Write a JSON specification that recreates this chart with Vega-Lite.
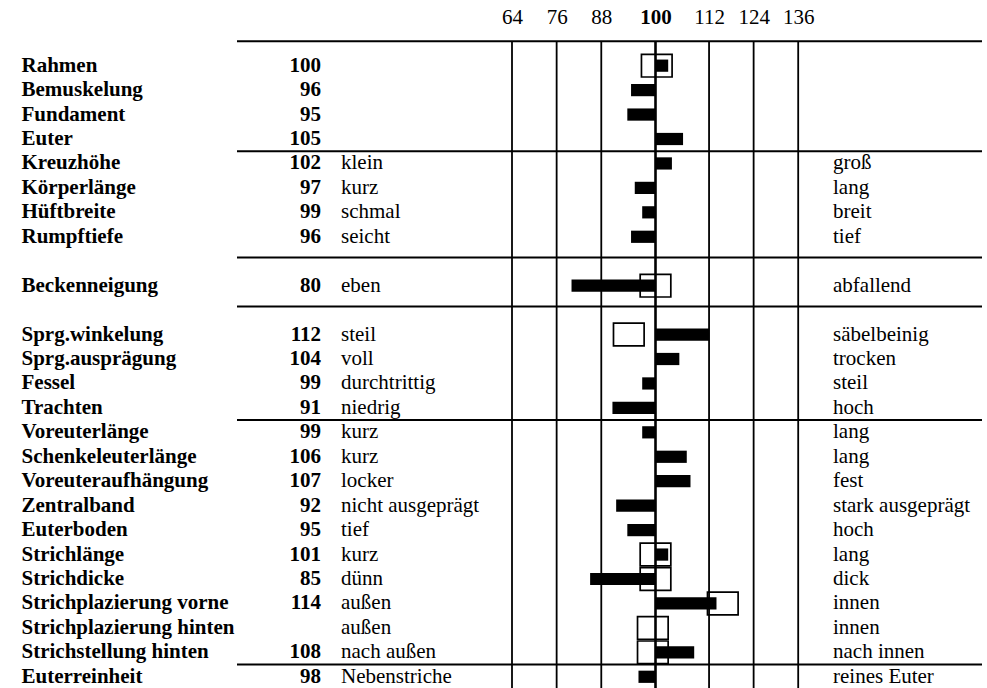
{
  "$schema": "https://vega.github.io/schema/vega-lite/v6.json",
  "padding": {"left": 21, "top": 6, "right": 0, "bottom": 0},
  "spacing": 0,
  "bounds": "flush",
  "background": "white",
  "config": {
    "view": {"stroke": null},
    "font": "Liberation Serif",
    "text": {"font": "Liberation Serif", "fontSize": 21, "color": "black"},
    "axis": {"labelFont": "Liberation Serif", "labelColor": "black"},
    "concat": {"spacing": 0}
  },
  "datasets": {
    "merkmale": [
      {"merkmal": "Rahmen", "zw": 100, "balken": 101, "niedrig": null, "hoch": null, "box": 100.1},
      {"merkmal": "Bemuskelung", "zw": 96, "balken": 96, "niedrig": null, "hoch": null, "box": null},
      {"merkmal": "Fundament", "zw": 95, "balken": 95, "niedrig": null, "hoch": null, "box": null},
      {"merkmal": "Euter", "zw": 105, "balken": 105, "niedrig": null, "hoch": null, "box": null},
      {"merkmal": "Kreuzhöhe", "zw": 102, "balken": 102, "niedrig": "klein", "hoch": "groß", "box": null},
      {"merkmal": "Körperlänge", "zw": 97, "balken": 97, "niedrig": "kurz", "hoch": "lang", "box": null},
      {"merkmal": "Hüftbreite", "zw": 99, "balken": 99, "niedrig": "schmal", "hoch": "breit", "box": null},
      {"merkmal": "Rumpftiefe", "zw": 96, "balken": 96, "niedrig": "seicht", "hoch": "tief", "box": null},
      {"merkmal": "Beckenneigung", "zw": 80, "balken": 80, "niedrig": "eben", "hoch": "abfallend", "box": 100},
      {"merkmal": "Sprg.winkelung", "zw": 112, "balken": 112, "niedrig": "steil", "hoch": "säbelbeinig", "box": 95.4},
      {"merkmal": "Sprg.ausprägung", "zw": 104, "balken": 104, "niedrig": "voll", "hoch": "trocken", "box": null},
      {"merkmal": "Fessel", "zw": 99, "balken": 99, "niedrig": "durchtrittig", "hoch": "steil", "box": null},
      {"merkmal": "Trachten", "zw": 91, "balken": 91, "niedrig": "niedrig", "hoch": "hoch", "box": null},
      {"merkmal": "Voreuterlänge", "zw": 99, "balken": 99, "niedrig": "kurz", "hoch": "lang", "box": null},
      {"merkmal": "Schenkeleuterlänge", "zw": 106, "balken": 106, "niedrig": "kurz", "hoch": "lang", "box": null},
      {"merkmal": "Voreuteraufhängung", "zw": 107, "balken": 107, "niedrig": "locker", "hoch": "fest", "box": null},
      {"merkmal": "Zentralband", "zw": 92, "balken": 92, "niedrig": "nicht ausgeprägt", "hoch": "stark ausgeprägt", "box": null},
      {"merkmal": "Euterboden", "zw": 95, "balken": 95, "niedrig": "tief", "hoch": "hoch", "box": null},
      {"merkmal": "Strichlänge", "zw": 101, "balken": 101, "niedrig": "kurz", "hoch": "lang", "box": 100},
      {"merkmal": "Strichdicke", "zw": 85, "balken": 85, "niedrig": "dünn", "hoch": "dick", "box": 100},
      {"merkmal": "Strichplazierung vorne", "zw": 114, "balken": 114, "niedrig": "außen", "hoch": "innen", "box": 115.7},
      {"merkmal": "Strichplazierung hinten", "zw": null, "balken": null, "niedrig": "außen", "hoch": "innen", "box": 99.8},
      {"merkmal": "Strichstellung hinten", "zw": 108, "balken": 108, "niedrig": "nach außen", "hoch": "nach innen", "box": 99.8},
      {"merkmal": "Euterreinheit", "zw": 98, "balken": 98, "niedrig": "Nebenstriche", "hoch": "reines Euter", "box": null}
    ],
    "raster": [{"wert": 64}, {"wert": 76}, {"wert": 88}, {"wert": 100}, {"wert": 112}, {"wert": 124}, {"wert": 136}],
    "linie_mitte": [{"merkmal": "_kopf"}],
    "linie_leer": [{"merkmal": "_leer1"}, {"merkmal": "_leer2"}],
    "linie_oben": [{"merkmal": "Kreuzhöhe"}, {"merkmal": "Voreuterlänge"}, {"merkmal": "Euterreinheit"}]
  },
  "hconcat": [
    {
      "width": 84,
      "height": 660,
      "layer": [
        {
          "data": {"name": "linie_mitte"},
          "mark": {"type": "rule", "color": "black", "strokeWidth": 2},
          "encoding": {
            "y": {"field": "merkmal", "type": "nominal", "bandPosition": 0.5,
              "scale": {"domain": ["_kopf","Rahmen","Bemuskelung","Fundament","Euter","Kreuzhöhe","Körperlänge","Hüftbreite","Rumpftiefe","_leer1","Beckenneigung","_leer2","Sprg.winkelung","Sprg.ausprägung","Fessel","Trachten","Voreuterlänge","Schenkeleuterlänge","Voreuteraufhängung","Zentralband","Euterboden","Strichlänge","Strichdicke","Strichplazierung vorne","Strichplazierung hinten","Strichstellung hinten","Euterreinheit"], "paddingInner": 0, "paddingOuter": 0},
              "axis": {"title": null, "domain": false, "ticks": false, "grid": false, "labelAlign": "left", "labelBaseline": "middle", "labelPadding": 216, "labelFontSize": 21, "labelFontWeight": "bold", "labelLimit": 400, "labelExpr": "indexof(datum.value, '_') == 0 ? '' : datum.value"}}
          }
        },
        {
          "data": {"name": "linie_leer"},
          "mark": {"type": "rule", "color": "black", "strokeWidth": 2},
          "encoding": {"y": {"field": "merkmal", "type": "nominal", "bandPosition": 0.35}}
        },
        {
          "data": {"name": "linie_oben"},
          "mark": {"type": "rule", "color": "black", "strokeWidth": 2},
          "encoding": {"y": {"field": "merkmal", "type": "nominal", "bandPosition": 0}}
        },
        {
          "data": {"name": "merkmale"},
          "transform": [{"filter": "isValid(datum.zw)"}],
          "mark": {"type": "text", "align": "right", "baseline": "middle", "fontWeight": "bold", "fontSize": 21},
          "encoding": {
            "y": {"field": "merkmal", "type": "nominal", "bandPosition": 0.5},
            "x": {"value": "width"},
            "text": {"field": "zw", "type": "quantitative", "format": "d"}
          }
        },
        {
          "data": {"name": "merkmale"},
          "transform": [{"filter": "isValid(datum.niedrig)"}],
          "mark": {"type": "text", "align": "left", "baseline": "middle", "dx": 20, "fontSize": 21},
          "encoding": {
            "y": {"field": "merkmal", "type": "nominal", "bandPosition": 0.5},
            "x": {"value": "width"},
            "text": {"field": "niedrig", "type": "nominal"}
          }
        }
      ]
    },
    {
      "width": 512,
      "height": 660,
      "layer": [
        {
          "data": {"name": "linie_mitte"},
          "mark": {"type": "rule", "color": "black", "strokeWidth": 2},
          "encoding": {
            "y": {"field": "merkmal", "type": "nominal", "bandPosition": 0.5,
              "scale": {"domain": ["_kopf","Rahmen","Bemuskelung","Fundament","Euter","Kreuzhöhe","Körperlänge","Hüftbreite","Rumpftiefe","_leer1","Beckenneigung","_leer2","Sprg.winkelung","Sprg.ausprägung","Fessel","Trachten","Voreuterlänge","Schenkeleuterlänge","Voreuteraufhängung","Zentralband","Euterboden","Strichlänge","Strichdicke","Strichplazierung vorne","Strichplazierung hinten","Strichstellung hinten","Euterreinheit"], "paddingInner": 0, "paddingOuter": 0},
              "axis": null}
          }
        },
        {
          "data": {"name": "linie_leer"},
          "mark": {"type": "rule", "color": "black", "strokeWidth": 2},
          "encoding": {"y": {"field": "merkmal", "type": "nominal", "bandPosition": 0.35, "axis": null}}
        },
        {
          "data": {"name": "linie_oben"},
          "mark": {"type": "rule", "color": "black", "strokeWidth": 2},
          "encoding": {"y": {"field": "merkmal", "type": "nominal", "bandPosition": 0, "axis": null}}
        },
        {
          "data": {"name": "raster"},
          "mark": {"type": "rule", "color": "black"},
          "encoding": {
            "x": {"field": "wert", "type": "quantitative",
              "scale": {"domain": [64, 99, 100, 101, 136], "range": [191, 321.2, 334.5, 347.2, 477.2], "nice": false, "zero": false},
              "axis": {"orient": "top", "title": null, "values": [64, 76, 88, 100, 112, 124, 136], "domain": false, "ticks": false, "grid": false, "labelOverlap": false, "labelFlush": false, "labelFontSize": 21, "labelPadding": 2, "labelFontWeight": {"expr": "datum.value == 100 ? 'bold' : 'normal'"}}},
            "y": {"datum": "_kopf", "type": "nominal", "bandPosition": 0.5, "axis": null},
            "y2": {"datum": "Euterreinheit", "bandPosition": 1},
            "strokeWidth": {"condition": {"test": "datum.wert == 100", "value": 2.6}, "value": 1.8}
          }
        },
        {
          "data": {"name": "merkmale"},
          "transform": [{"filter": "isValid(datum.balken)"}],
          "mark": {"type": "bar", "color": "black", "height": {"band": 0.5}},
          "encoding": {
            "x": {"field": "balken", "type": "quantitative"},
            "x2": {"datum": 100},
            "y": {"field": "merkmal", "type": "nominal", "axis": null}
          }
        },
        {
          "data": {"name": "merkmale"},
          "transform": [{"filter": "isValid(datum.box)"}],
          "mark": {"type": "point", "shape": "M-1.35,-1H1.35V1H-1.35Z", "size": 515, "filled": false, "stroke": "black", "strokeWidth": 1.7, "opacity": 1},
          "encoding": {
            "x": {"field": "box", "type": "quantitative"},
            "y": {"field": "merkmal", "type": "nominal", "axis": null}
          }
        },
        {
          "data": {"name": "merkmale"},
          "transform": [{"filter": "isValid(datum.hoch)"}],
          "mark": {"type": "text", "align": "left", "baseline": "middle", "fontSize": 21},
          "encoding": {
            "y": {"field": "merkmal", "type": "nominal", "bandPosition": 0.5, "axis": null},
            "x": {"value": "width"},
            "text": {"field": "hoch", "type": "nominal"}
          }
        }
      ]
    },
    {
      "width": 149,
      "height": 660,
      "layer": [
        {
          "data": {"name": "linie_mitte"},
          "mark": {"type": "rule", "color": "black", "strokeWidth": 2},
          "encoding": {
            "y": {"field": "merkmal", "type": "nominal", "bandPosition": 0.5,
              "scale": {"domain": ["_kopf","Rahmen","Bemuskelung","Fundament","Euter","Kreuzhöhe","Körperlänge","Hüftbreite","Rumpftiefe","_leer1","Beckenneigung","_leer2","Sprg.winkelung","Sprg.ausprägung","Fessel","Trachten","Voreuterlänge","Schenkeleuterlänge","Voreuteraufhängung","Zentralband","Euterboden","Strichlänge","Strichdicke","Strichplazierung vorne","Strichplazierung hinten","Strichstellung hinten","Euterreinheit"], "paddingInner": 0, "paddingOuter": 0},
              "axis": null}
          }
        },
        {
          "data": {"name": "linie_leer"},
          "mark": {"type": "rule", "color": "black", "strokeWidth": 2},
          "encoding": {"y": {"field": "merkmal", "type": "nominal", "bandPosition": 0.35, "axis": null}}
        },
        {
          "data": {"name": "linie_oben"},
          "mark": {"type": "rule", "color": "black", "strokeWidth": 2},
          "encoding": {"y": {"field": "merkmal", "type": "nominal", "bandPosition": 0, "axis": null}}
        }
      ]
    }
  ]
}
